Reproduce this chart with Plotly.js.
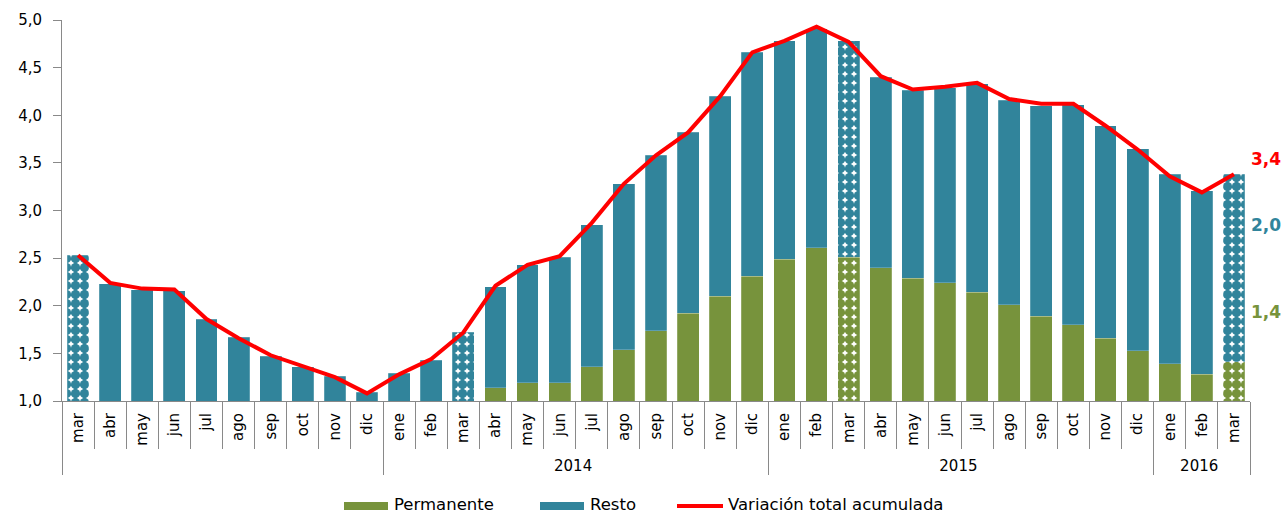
<!DOCTYPE html>
<html>
<head>
<meta charset="utf-8">
<script src="https://cdn.plot.ly/plotly-3.0.1.min.js"></script>
<style>
  html, body { margin: 0; padding: 0; background: #fff; }
  #chart { width: 1286px; height: 514px; }
</style>
</head>
<body>
<div id="chart"></div>
<script>
// Year group (outer) and month (inner) labels
const years = [
  " "," "," "," "," "," "," "," "," "," ",
  "2014","2014","2014","2014","2014","2014","2014","2014","2014","2014","2014","2014",
  "2015","2015","2015","2015","2015","2015","2015","2015","2015","2015","2015","2015",
  "2016","2016","2016"
];
const months = [
  "mar","abr","may","jun","jul","ago","sep","oct","nov","dic",
  "ene","feb","mar","abr","may","jun","jul","ago","sep","oct","nov","dic",
  "ene","feb","mar","abr","may","jun","jul","ago","sep","oct","nov","dic",
  "ene","feb","mar"
];
// Permanente (values below the 1,0 axis floor are not visible in the picture)
const permanente = [
  null,null,null,null,null,null,null,null,null,null,
  null,null,null,1.14,1.19,1.19,1.36,1.54,1.74,1.92,2.10,2.31,
  2.49,2.61,2.51,2.40,2.29,2.24,2.14,2.01,1.89,1.80,1.66,1.53,
  1.39,1.28,1.41
];
// Resto
const resto = [
  2.53,2.23,2.17,2.16,1.86,1.67,1.47,1.36,1.26,1.09,
  1.29,1.43,1.72,1.06,1.24,1.32,1.49,1.74,1.84,1.90,2.10,2.35,
  2.29,2.30,2.27,2.00,1.97,2.05,2.19,2.15,2.21,2.31,2.23,2.12,
  1.99,1.93,1.97
];
// Variación total acumulada
const total = [
  2.53,2.24,2.18,2.17,1.86,1.66,1.48,1.37,1.25,1.08,
  1.28,1.44,1.72,2.21,2.43,2.52,2.87,3.28,3.58,3.82,4.20,4.66,
  4.78,4.93,4.77,4.41,4.27,4.30,4.34,4.17,4.12,4.12,3.89,3.64,
  3.36,3.19,3.38
];
// Patterned (March) bars
const patterned = [
  1,0,0,0,0,0,0,0,0,0,
  0,0,1,0,0,0,0,0,0,0,0,0,
  0,0,1,0,0,0,0,0,0,0,0,0,
  0,0,1
];
const legendNames = ["Permanente", "Resto", "Variación total acumulada"];
const endLabels = ["3,4", "2,0", "1,4"];

const GREEN = "#77933C", TEAL = "#31849B", RED = "#FF0000", AXIS = "#898989";
const FONT = "DejaVu Sans, Verdana, sans-serif";
const shapesPat = patterned.map(p => p ? "." : "");
// the unlabeled first year group gets its own (invisible) keys so that months keep their order
const inner = months.map((m, i) => years[i] === " " ? m + "\u200b" : m);
const x = [years, inner];

const pattern = { shape: shapesPat, fillmode: "replace", size: 9, solidity: 0.8 };
const traces = [
  { type: "bar", name: legendNames[0], x: x, y: permanente,
    marker: { color: GREEN, line: { width: 0.6, color: "rgba(255,255,255,0.35)" }, pattern: pattern } },
  { type: "bar", name: legendNames[1], x: x, y: resto,
    marker: { color: TEAL, line: { width: 0.6, color: "rgba(255,255,255,0.35)" }, pattern: pattern } },
  { type: "scatter", mode: "lines", name: legendNames[2], x: x, y: total,
    line: { color: RED, width: 4 } }
];

// legend drawn in paper coordinates (wide swatches like the original)
const px = v => (v - 62) / 1188;
const py = v => (401 - v) / 381;
const legShapes = [
  { type: "rect", xref: "paper", yref: "paper", x0: px(344), x1: px(388), y0: py(510), y1: py(502),
    fillcolor: GREEN, line: { width: 0 } },
  { type: "rect", xref: "paper", yref: "paper", x0: px(540), x1: px(584), y0: py(510), y1: py(502),
    fillcolor: TEAL, line: { width: 0 } },
  { type: "line", xref: "paper", yref: "paper", x0: px(677), x1: px(723), y0: py(506), y1: py(506),
    line: { color: RED, width: 4 } }
];
const legText = [[393, legendNames[0]], [589, legendNames[1]], [727, legendNames[2]]].map(([xx, t]) => ({
  xref: "paper", yref: "paper", x: px(xx), y: py(504), xanchor: "left", yanchor: "middle",
  borderpad: 0, text: t, showarrow: false, font: { size: 16.5, color: "#000", family: FONT }
}));

const endAnn = (t, yv, c) => ({
  xref: "paper", yref: "y", x: px(1266), y: yv, xanchor: "center", yanchor: "middle",
  text: "<b>" + t + "</b>", showarrow: false, font: { size: 17, color: c, family: FONT }
});

const layout = {
  width: 1286, height: 514,
  margin: { l: 62, r: 36, t: 20, b: 113 },
  paper_bgcolor: "#fff", plot_bgcolor: "#fff",
  barmode: "stack", bargap: 0.32,
  separators: ",.",
  font: { family: FONT, color: "#000", size: 15 },
  showlegend: false,
  xaxis: {
    type: "multicategory", showline: true, linecolor: AXIS, linewidth: 1,
    ticks: "outside", tickson: "boundaries", ticklen: 47, tickcolor: AXIS,
    tickangle: -90, tickfont: { size: 15 }, ticklabelstandoff: 5,
    showdividers: true, dividercolor: AXIS, dividerwidth: 1,
    showgrid: false, zeroline: false
  },
  yaxis: {
    range: [1, 5], dtick: 0.5, tickformat: ".1f",
    showline: true, linecolor: AXIS, linewidth: 1,
    ticks: "outside", ticklen: 8, tickcolor: AXIS, ticklabelstandoff: 8,
    tickfont: { size: 15 }, showgrid: false, zeroline: false
  },
  shapes: legShapes,
  annotations: [
    endAnn(endLabels[0], 3.54, RED),
    endAnn(endLabels[1], 2.85, TEAL),
    endAnn(endLabels[2], 1.93, GREEN)
  ].concat(legText)
};

Plotly.newPlot("chart", traces, layout, { displayModeBar: false, staticPlot: true });
</script>
</body>
</html>
